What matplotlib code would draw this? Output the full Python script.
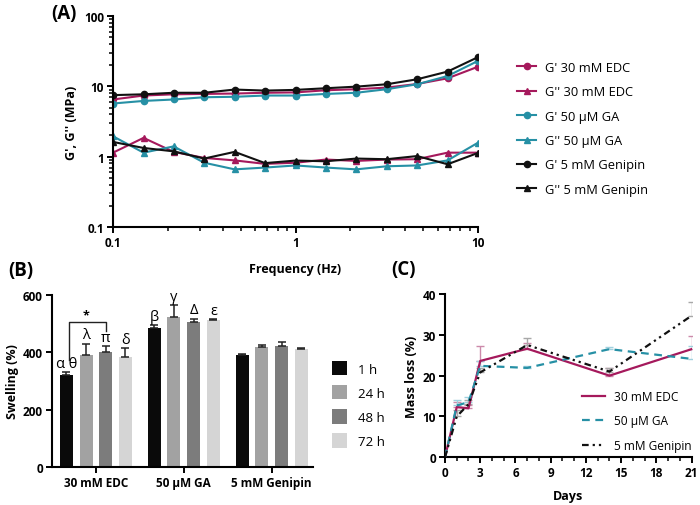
import numpy as np
import matplotlib
matplotlib.use("Agg")
import matplotlib.pyplot as plt
from matplotlib.patches import Patch
from matplotlib.ticker import LogLocator, NullFormatter, MultipleLocator

plt.rcParams['font.family'] = ['Open Sans', 'DejaVu Sans']

# ---------------- Data ----------------
# Panel A: rheology
freq = [0.1, 0.147, 0.215, 0.316, 0.464, 0.681, 1.0, 1.47, 2.15, 3.16, 4.64, 6.81, 10.0]
gp_edc = [6.5, 7.4, 7.7, 7.8, 7.9, 8.1, 8.2, 8.8, 9.1, 9.6, 10.8, 13.0, 19.0]
gpp_edc = [1.14, 1.85, 1.17, 0.96, 0.885, 0.79, 0.82, 0.91, 0.87, 0.91, 0.92, 1.14, 1.14]
gp_ga = [5.7, 6.2, 6.5, 7.0, 7.1, 7.4, 7.4, 7.8, 8.1, 9.1, 10.7, 14.0, 23.0]
gpp_ga = [1.95, 1.14, 1.40, 0.82, 0.66, 0.70, 0.75, 0.70, 0.66, 0.73, 0.75, 0.885, 1.58]
gp_gen = [7.5, 7.7, 8.1, 8.1, 9.0, 8.7, 8.9, 9.4, 9.9, 10.7, 12.6, 16.2, 26.0]
gpp_gen = [1.62, 1.33, 1.19, 0.94, 1.17, 0.81, 0.88, 0.86, 0.94, 0.92, 1.02, 0.78, 1.13]

# Panel B: swelling
groups = ['30 mM EDC', '50 µM GA', '5 mM Genipin']
times = ['1 h', '24 h', '48 h', '72 h']
swell_1h = [322, 485, 390]
swell_24h = [390, 523, 418]
swell_48h = [400, 505, 423]
swell_72h = [383, 512, 412]
err_1h = [10, 10, 5]
err_24h = [40, 42, 8]
err_48h = [20, 12, 14]
err_72h = [30, 4, 4]
letters_1h = ['α θ', 'β', '']
letters_24h = ['λ', 'γ', '']
letters_48h = ['π', 'Δ', '']
letters_72h = ['δ', 'ε', '']

# Panel C: mass loss
days = [0, 1, 2, 3, 7, 14, 21]
ml_edc = [0, 12.3, 12.0, 23.6, 26.6, 20.0, 26.5]
ml_ga = [0, 12.7, 13.5, 22.4, 21.9, 26.5, 24.1]
ml_gen = [0, 10.0, 13.0, 20.8, 27.5, 21.0, 34.7]
err_edc = [0, 1.3, 0.8, 3.6, 1.3, 1.9, 3.3]
err_ga = [0, 1.3, 1.2, 1.2, 0.4, 0.5, 3.1]
err_gen = [0, 1.5, 1.0, 1.0, 1.7, 0.9, 3.4]

MAG = '#A5195C'
TEAL = '#2690A5'
BLK = '#111111'
bar_cols = ['#0a0a0a', '#a2a2a2', '#7c7c7c', '#d5d5d5']

W, H = 700, 506
fig = plt.figure(figsize=(7.0, 5.06), dpi=100)

def ax_px(l, t, r, b):
    return fig.add_axes([l / W, 1 - b / H, (r - l) / W, (b - t) / H])

def style_axes(ax):
    for s in ['top', 'right']:
        ax.spines[s].set_visible(False)
    for s in ['left', 'bottom']:
        ax.spines[s].set_linewidth(1.5)
    ax.tick_params(which='major', width=1.4, length=4.5, labelsize=8.5, pad=2)
    ax.tick_params(which='minor', width=1.1, length=2.8)
    for lab in ax.get_xticklabels() + ax.get_yticklabels():
        lab.set_fontweight('bold')

# ---------------- Panel A ----------------
axA = ax_px(113, 17, 478, 228)
axA.set_xscale('log')
axA.set_yscale('log')
lw = 1.5
ms = 4.5
axA.plot(freq, gp_edc, '-o', color=MAG, lw=lw, ms=ms, label="G' 30 mM EDC")
axA.plot(freq, gpp_edc, '-^', color=MAG, lw=lw, ms=ms, label="G'' 30 mM EDC")
axA.plot(freq, gp_ga, '-o', color=TEAL, lw=lw, ms=ms, label="G' 50 µM GA")
axA.plot(freq, gpp_ga, '-^', color=TEAL, lw=lw, ms=ms, label="G'' 50 µM GA")
axA.plot(freq, gp_gen, '-o', color=BLK, lw=lw, ms=ms, label="G' 5 mM Genipin")
axA.plot(freq, gpp_gen, '-^', color=BLK, lw=lw, ms=ms, label="G'' 5 mM Genipin")
axA.set_xlim(0.1, 10)
axA.set_ylim(0.1, 100)
axA.set_xticks([0.1, 1, 10])
axA.set_xticklabels(['0.1', '1', '10'])
axA.set_yticks([0.1, 1, 10, 100])
axA.set_yticklabels(['0.1', '1', '10', '100'])
axA.xaxis.set_minor_locator(LogLocator(base=10, subs=np.arange(2, 10)))
axA.yaxis.set_minor_locator(LogLocator(base=10, subs=np.arange(2, 10)))
axA.xaxis.set_minor_formatter(NullFormatter())
axA.yaxis.set_minor_formatter(NullFormatter())
axA.tick_params(axis='y', which='minor', length=0)
style_axes(axA)
axA.set_ylabel("G', G'' (MPa)", fontsize=9, fontweight='bold', labelpad=4)
axA.set_xlabel("Frequency (Hz)", fontsize=9, fontweight='bold', labelpad=9)
axA.legend(loc='upper left', bbox_to_anchor=(517 / W, 1 - 62 / H), bbox_transform=fig.transFigure,
           frameon=False, fontsize=9.3, handlelength=1.5, handletextpad=0.65,
           labelspacing=0.88, borderaxespad=0, borderpad=0)

# ---------------- Panel B ----------------
axB = ax_px(52, 295.7, 313, 468.3)
x = np.arange(len(groups))
bw = 0.148
step = 0.224
series = [swell_1h, swell_24h, swell_48h, swell_72h]
errs = [err_1h, err_24h, err_48h, err_72h]
lets = [letters_1h, letters_24h, letters_48h, letters_72h]
for i, (vals, e, lab) in enumerate(zip(series, errs, lets)):
    xs = x + (i - 1.5) * step
    axB.bar(xs, vals, width=bw, color=bar_cols[i], label=times[i], zorder=2)
    axB.errorbar(xs, vals, yerr=[np.zeros(len(e)), e], fmt='none', ecolor='#222222',
                 elinewidth=1.1, capsize=3, capthick=1.1, zorder=3)
    for xi, v, ei, t in zip(xs, vals, e, lab):
        if t:
            axB.text(xi, v + ei + 4, t, ha='center', va='bottom', fontsize=10.5)
axB.set_xlim(-0.5, 2.47)
axB.set_ylim(0, 600)
axB.set_yticks([0, 200, 400, 600])
axB.set_xticks(x)
axB.set_xticklabels(groups)
style_axes(axB)
axB.tick_params(axis='x', length=4.5)
axB.set_ylabel("Swelling (%)", fontsize=9, fontweight='bold', labelpad=3)
# significance bracket
xl = x[0] - 1.5 * step + 0.03
xr = x[0] + 0.5 * step
axB.plot([xl, xl, xr, xr], [372, 504, 504, 475], color='#222222', lw=1.0, zorder=4)
axB.text(x[0] - 0.5 * step, 506, '*', ha='center', va='bottom', fontsize=9, fontweight='bold')
handles_B = [Patch(facecolor=c, edgecolor='none') for c in bar_cols]
axB.legend(handles_B, times, loc='upper left', bbox_to_anchor=(332 / W, 1 - 362 / H),
           bbox_transform=fig.transFigure, frameon=False, fontsize=9.5,
           handlelength=1.1, handleheight=1.3, handletextpad=0.9, labelspacing=0.72,
           borderaxespad=0, borderpad=0)

# ---------------- Panel C ----------------
axC = ax_px(445, 295, 691.7, 458.3)
axC.errorbar(days, ml_edc, yerr=[np.zeros(len(err_edc)), err_edc], fmt='none',
             ecolor='#cc8aab', elinewidth=1.0, capsize=3, capthick=1.0, zorder=2)
axC.errorbar(days, ml_ga, yerr=[np.zeros(len(err_ga)), err_ga], fmt='none',
             ecolor='#9fd0de', elinewidth=1.0, capsize=3, capthick=1.0, zorder=2)
axC.errorbar(days, ml_gen, yerr=[np.zeros(len(err_gen)), err_gen], fmt='none',
             ecolor='#a8a8a8', elinewidth=1.0, capsize=3, capthick=1.0, zorder=2)
axC.plot(days, ml_edc, '-', color=MAG, lw=1.6, label='30 mM EDC', zorder=3)
axC.plot(days, ml_ga, color=TEAL, lw=1.6, dashes=(3.5, 2.5), label='50 µM GA', zorder=3)
axC.plot(days, ml_gen, color=BLK, lw=1.6, dashes=(3.0, 1.8, 1.0, 1.8, 1.0, 1.8),
         label='5 mM Genipin', zorder=3)
axC.set_xlim(0, 21)
axC.set_ylim(0, 40)
axC.set_xticks(np.arange(0, 22, 3))
axC.xaxis.set_minor_locator(MultipleLocator(1))
axC.set_yticks([0, 10, 20, 30, 40])
style_axes(axC)
axC.set_ylabel("Mass loss (%)", fontsize=9, fontweight='bold', labelpad=3)
axC.set_xlabel("Days", fontsize=9, fontweight='bold', labelpad=7)
axC.legend(loc='upper left', bbox_to_anchor=(582 / W, 1 - 391 / H), bbox_transform=fig.transFigure,
           frameon=False, fontsize=8.6, handlelength=1.9, handletextpad=0.75,
           labelspacing=0.95, borderaxespad=0, borderpad=0)

# Panel labels
fig.text(64 / W, 1 - 14 / H, '(A)', fontsize=13.5, fontweight='bold', ha='center', va='center')
fig.text(21 / W, 1 - 271 / H, '(B)', fontsize=13.5, fontweight='bold', ha='center', va='center')
fig.text(403 / W, 1 - 270 / H, '(C)', fontsize=13.5, fontweight='bold', ha='center', va='center')

fig.savefig('out.png', dpi=100)
